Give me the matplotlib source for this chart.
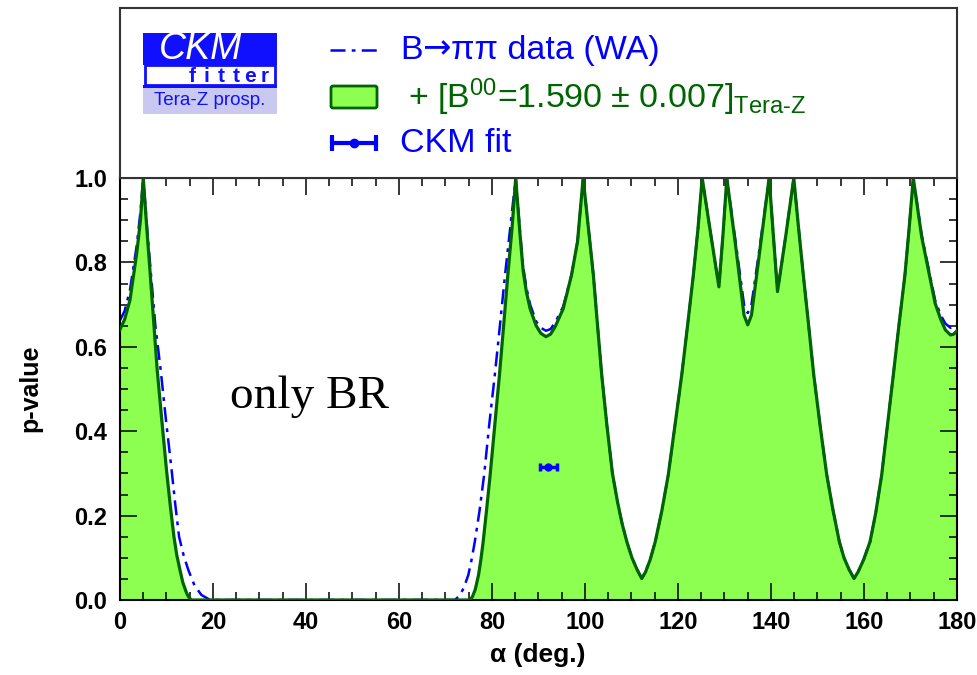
import numpy as np
import matplotlib
matplotlib.use("Agg")
import matplotlib.pyplot as plt
import matplotlib.patches as mpatches
from matplotlib.ticker import MultipleLocator

plt.rcParams.update({
    "font.family": ["Liberation Sans", "DejaVu Sans"],
    "mathtext.fontset": "custom",
    "mathtext.rm": "Liberation Sans",
    "mathtext.it": "Liberation Sans:italic",
    "mathtext.bf": "Liberation Sans:bold",
})

# + B00 Tera-Z prospect: alpha [deg], p-value
alpha_tz = [0, 1, 2.15, 3.6, 4.4, 5.0, 5.9, 6.45, 8.0, 9.0, 10.0, 10.8, 11.6, 12.2, 12.9,
            13.5, 14.2, 14.6, 15.0, 15.4,
            74.5, 75.3, 75.8, 76.4, 77.1, 77.6, 78.1, 78.8, 79.6, 80.6, 81.6, 82.5, 83.4,
            84.3, 85.1, 86.0, 86.7, 87.4, 88.2, 89.5, 90.5, 91.6, 92.6, 93.6, 95.3, 97.1,
            98.4, 99.6,
            100.7, 101.8, 102.7, 103.6, 104.7, 105.9, 107.0, 108.0, 109.0, 110.1, 111.2,
            112.2, 113.0, 114.0, 115.1, 116.5, 117.9, 119.3, 120.8, 122.0, 123.3, 124.3,
            125.2, 127.0, 128.8, 129.7, 130.5, 132.5, 134.2, 135.0, 135.8, 137.5, 139.6,
            140.5, 141.4, 143.2, 144.9, 145.9, 146.95, 148.1, 149.2, 150.6, 152.0, 153.3,
            154.7, 155.7, 156.8, 157.85, 158.7, 159.9, 161.3, 162.5, 163.8, 165.0, 166.3,
            167.5, 168.8, 169.7, 170.6, 172.4, 175.3, 176.5, 177.5, 178.6, 179.3, 180.0]
p_tz = [0.641, 0.665, 0.711, 0.822, 0.9, 1.0, 0.86, 0.78, 0.545, 0.425, 0.308, 0.225, 0.15, 0.107, 0.071,
        0.042, 0.02, 0.01, 0.004, 0.0,
        0.0, 0.0, 0.008, 0.025, 0.059, 0.095, 0.138, 0.21, 0.296, 0.415, 0.533, 0.65, 0.77,
        0.88, 1.0, 0.87, 0.78, 0.73, 0.69, 0.65, 0.632, 0.624, 0.63, 0.648, 0.69, 0.77,
        0.85, 1.0,
        0.885, 0.77, 0.65, 0.533, 0.415, 0.30, 0.232, 0.18, 0.138, 0.10, 0.072,
        0.051, 0.066, 0.095, 0.138, 0.21, 0.296, 0.41, 0.533, 0.645, 0.77, 0.88,
        1.0, 0.87, 0.742, 0.87, 1.0, 0.83, 0.675, 0.652, 0.675, 0.82, 1.0,
        0.865, 0.731, 0.865, 1.0, 0.885, 0.77, 0.65, 0.533, 0.41, 0.296, 0.215,
        0.138, 0.10, 0.072, 0.051, 0.066, 0.095, 0.138, 0.205, 0.296, 0.41, 0.533,
        0.65, 0.77, 0.88, 1.0, 0.861, 0.703, 0.665, 0.64, 0.628, 0.63, 0.638]

# B->pipi data (WA) only
alpha_wa = [0, 1, 2.15, 3.6, 4.4, 5.0, 5.9, 6.6, 7.6, 8.75, 9.9, 11.1, 11.9, 12.7, 13.7,
            14.7, 16.0, 17.5, 19.4,
            72.0, 73.0, 73.9, 74.9, 75.6, 76.3, 77.3, 78.3, 79.4, 80.6, 81.7, 82.8, 84.0,
            85.1, 86.0, 86.7, 87.4, 88.2, 89.5, 90.5, 91.6, 92.6, 93.6, 95.3, 97.1, 98.4,
            99.6, 100.7, 101.8, 102.7, 103.6, 104.7, 105.9, 107.0, 108.0, 109.0, 110.1,
            111.2, 112.2, 113.0, 114.0, 115.1, 116.5, 117.9, 119.3, 120.8, 122.0, 123.3,
            124.3, 125.2, 127.0, 128.8, 129.7, 130.5, 132.5, 134.2, 135.0, 135.8, 137.5,
            139.6, 140.5, 141.4, 143.2, 144.9, 145.9, 146.95, 148.1, 149.2, 150.6, 152.0,
            153.3, 154.7, 155.7, 156.8, 157.85, 158.7, 159.9, 161.3, 162.5, 163.8, 165.0,
            166.3, 167.5, 168.8, 169.7, 170.6, 172.4, 175.3, 176.5, 177.5, 178.6, 179.3,
            180.0]
p_wa = [0.663, 0.685, 0.735, 0.84, 0.92, 1.0, 0.87, 0.78, 0.65, 0.545, 0.425, 0.308, 0.225, 0.15, 0.105,
        0.071, 0.035, 0.012, 0.0,
        0.0, 0.01, 0.028, 0.059, 0.095, 0.138, 0.21, 0.296, 0.415, 0.533, 0.65, 0.77, 0.89,
        1.0, 0.875, 0.79, 0.74, 0.70, 0.66, 0.645, 0.638, 0.642, 0.658, 0.695, 0.77, 0.85,
        1.0, 0.885, 0.77, 0.65, 0.533, 0.415, 0.30, 0.232, 0.18, 0.138, 0.10,
        0.072, 0.051, 0.066, 0.095, 0.138, 0.21, 0.296, 0.41, 0.533, 0.645, 0.77,
        0.88, 1.0, 0.87, 0.742, 0.87, 1.0, 0.84, 0.70, 0.68, 0.70, 0.83,
        1.0, 0.865, 0.731, 0.865, 1.0, 0.885, 0.77, 0.65, 0.533, 0.41, 0.296,
        0.215, 0.138, 0.10, 0.072, 0.051, 0.066, 0.095, 0.138, 0.205, 0.296, 0.41,
        0.533, 0.65, 0.77, 0.88, 1.0, 0.865, 0.71, 0.675, 0.655, 0.645, 0.648,
        0.655]

# CKM fit point
fit_alpha, fit_err, fit_p = 92.1, 1.8, 0.315

BLUE = "#0000ff"
DKGREEN = "#006400"
FILL = "#8cff50"
DASHDOT = (0, (6, 2.5, 1.5, 2.5))

W, H = 978, 675
fig = plt.figure(figsize=(W / 100, H / 100), dpi=100)
L, R, B, T, TOP = 120, 957, 600, 178, 8
ax = fig.add_axes([L / W, 1 - B / H, (R - L) / W, (B - T) / H])

ax.fill_between(alpha_tz, p_tz, 0, color=FILL, lw=0, zorder=1)
ax.plot(alpha_wa, p_wa, color=BLUE, lw=1.8, ls=DASHDOT, zorder=2)
ax.plot(alpha_tz, p_tz, color=DKGREEN, lw=2.3, zorder=3)
ax.errorbar([fit_alpha], [fit_p], xerr=[fit_err], fmt="o", color=BLUE, ms=5,
            elinewidth=2.5, capsize=3, capthick=2.5, zorder=4)

ax.text(23.7, 0.455, "only BR", family="Liberation Serif", fontsize=34, va="baseline")

ax.set_xlim(0, 180)
ax.set_ylim(0, 1.0)
ax.xaxis.set_major_locator(MultipleLocator(20))
ax.xaxis.set_minor_locator(MultipleLocator(5))
ax.yaxis.set_major_locator(MultipleLocator(0.2))
ax.yaxis.set_minor_locator(MultipleLocator(0.05))
ax.yaxis.set_major_formatter(plt.FuncFormatter(lambda v, _: f"{v:.1f}"))
ax.tick_params(which="both", direction="in", top=True, right=True, width=1.1)
ax.tick_params(which="major", length=12)
ax.tick_params(which="minor", length=6)
ax.tick_params(axis="x", pad=8)
ax.tick_params(axis="y", pad=9)
for lab in ax.get_xticklabels() + ax.get_yticklabels():
    lab.set_fontweight("bold")
    lab.set_fontsize(17)
for s in ax.spines.values():
    s.set_linewidth(1.5)

fig.text(30 / W, 1 - 388 / H, "p-value", rotation=90, ha="center", va="center",
         fontsize=18, fontweight="bold")
fig.text(538 / W, 1 - 655 / H, "α (deg.)", ha="center", va="center",
         fontsize=19, fontweight="bold")

# legend panel, pixel coordinates
lg = fig.add_axes([L / W, 1 - T / H, (R - L) / W, (T - TOP) / H])
lg.set_xlim(L, R)
lg.set_ylim(T, TOP)
lg.set_xticks([])
lg.set_yticks([])
for s in lg.spines.values():
    s.set_linewidth(1.5)
    s.set_color("#333333")

# CKMfitter logo
lg.add_patch(mpatches.Rectangle((143, 33), 134, 32, color="#1010ff", lw=0))
lg.add_patch(mpatches.Rectangle((145, 65), 130, 20, facecolor="white", edgecolor="#1010ff", lw=2))
lg.add_patch(mpatches.Rectangle((143, 85), 134, 2.5, color="#1010ff", lw=0))
lg.add_patch(mpatches.Rectangle((143, 87.5), 134, 26, color="#c8c8f0", lw=0))
lg.text(201, 49, "CKM", color="white", style="italic", fontsize=27, ha="center", va="center")
for i, ch in enumerate("fitter"):
    lg.text(192 + i * 14.6, 76, ch, color="#1010ff", fontweight="bold", fontsize=15,
            ha="center", va="center")
lg.text(210, 100, "Tera-Z prosp.", color="#1010ff", fontsize=13.5, ha="center", va="center")

# legend entries
lg.plot([330, 378], [50, 50], color=BLUE, lw=1.8, ls=DASHDOT)
t1 = lg.text(400, 50, "B", color=BLUE, fontsize=24.5, va="center")
t2 = lg.annotate("→", xy=(1, 0), xycoords=t1, va="bottom", color=BLUE, fontsize=24.5,
                 family="DejaVu Sans")
lg.annotate("ππ data (WA)", xy=(1, 0), xycoords=t2, va="bottom", color=BLUE, fontsize=24.5)
lg.add_patch(mpatches.FancyBboxPatch((331, 86), 46, 22, boxstyle="round,pad=0,rounding_size=2",
                                     facecolor=FILL, edgecolor=DKGREEN, lw=2))
lg.text(408, 97, r"+ [B$^{00}$=1.590 $\pm$ 0.007]$_{\text{Tera-Z}}$", color=DKGREEN,
        fontsize=24.5, va="center")
lg.errorbar([354], [143], xerr=[22], fmt="o", color=BLUE, ms=6, elinewidth=3,
            capsize=6, capthick=3)
lg.text(400, 143, "CKM fit", color=BLUE, fontsize=24.5, va="center")

fig.savefig("out.png", dpi=100)
